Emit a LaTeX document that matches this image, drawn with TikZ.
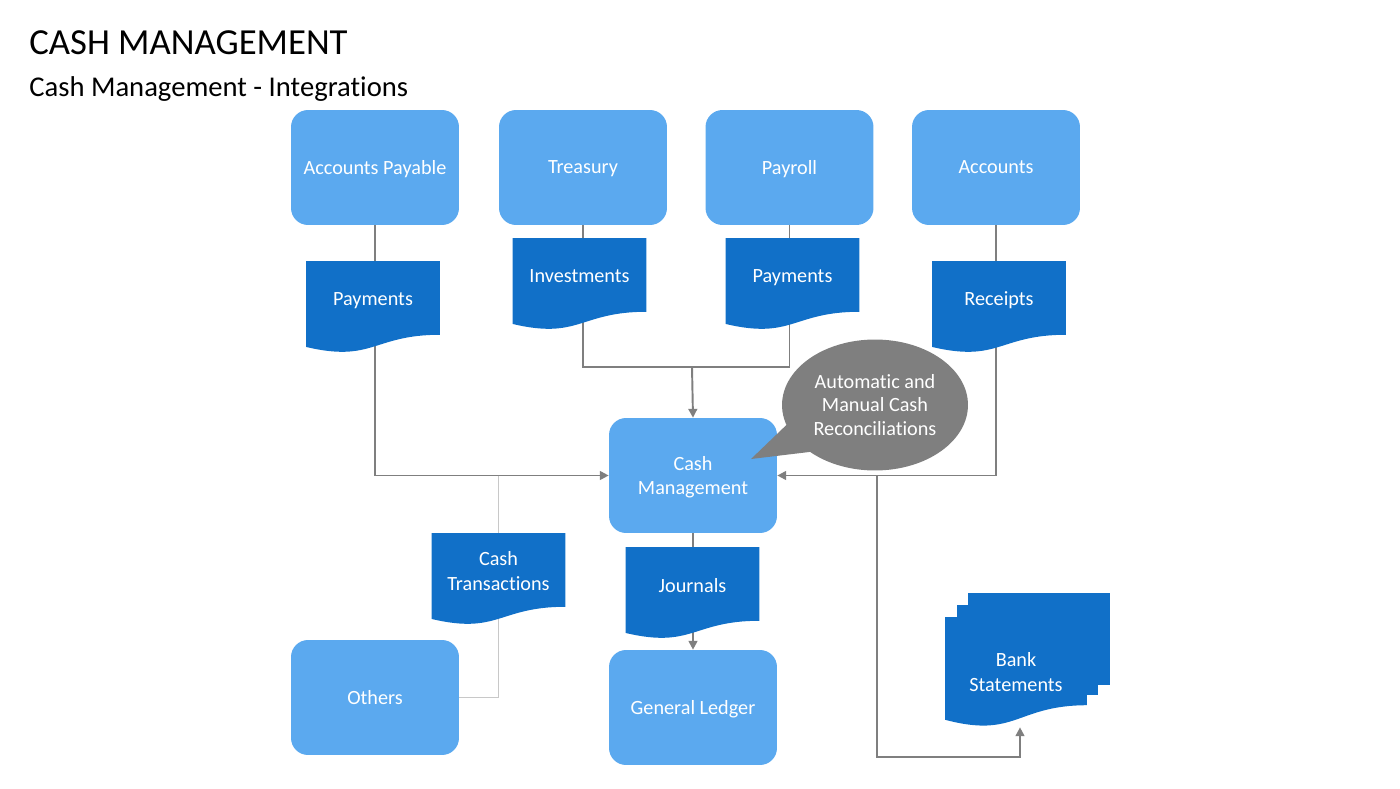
\documentclass[tikz,border=0pt]{standalone}
\usepackage{fontspec}
\setmainfont{Carlito}[Ligatures=NoCommon]
\usetikzlibrary{shapes.callouts, arrows.meta, calc, backgrounds}
\definecolor{boxblue}{RGB}{91,169,239}
\definecolor{docblue}{RGB}{17,112,200}
\definecolor{linegray}{RGB}{127,127,127}
\definecolor{palegray}{RGB}{200,200,200}
\newcommand{\diagfont}{\fontsize{11.5}{14.2}\selectfont}
\tikzstyle{box} = [rectangle, rounded corners=0.34cm, minimum width=3.36cm, minimum height=2.3cm, text centered, align=center, fill=boxblue, text=white, font=\diagfont, text depth=0pt]
\tikzstyle{docshape} = [rectangle, minimum width=2.68cm, minimum height=1.84cm, align=center, text=white, font=\diagfont, path picture={\fill[docblue] (path picture bounding box.north west) -- (path picture bounding box.north east) -- ($(path picture bounding box.south east)!0.198!(path picture bounding box.north east)$) .. controls ($(path picture bounding box.south)!0.198!(path picture bounding box.north)$) and ($(path picture bounding box.south)!-0.107!(path picture bounding box.north)$) .. ($(path picture bounding box.south west)!0.066!(path picture bounding box.north west)$) -- cycle;}]
\tikzstyle{doc} = [docshape, text depth=0.32cm]
\tikzstyle{line} = [draw=linegray, line width=1.1pt]
\tikzstyle{arrow} = [line, -{Triangle[length=5pt,width=5pt]}]
\tikzstyle{thinline} = [draw=palegray, line width=0.6pt]

\begin{document}
\begin{tikzpicture}[x=0.02cm, y=-0.02cm]
\useasboundingbox (0,0) rectangle (1400,788);

%% TITLES

\node (title) [anchor=base west, inner sep=0pt, font=\fontsize{20.9}{24}\selectfont] at (29,54) {CASH MANAGEMENT};
\node (subtitle) [anchor=base west, inner sep=0pt, font=\fontsize{16.3}{19}\selectfont] at (29,96) {Cash Management - Integrations};

%% NODES

\node (ap) [box] at (375,167.5) {Accounts Payable};
\node (treasury) [box] at (583,167.5) {Treasury};
\node (payroll) [box] at (789.5,167.5) {Payroll};
\node (accounts) [box] at (996,167.5) {Accounts};

\node (pay1) [doc] at (373,307) {Payments};
\node (invest) [doc] at (579.5,284) {Investments};
\node (pay2) [doc] at (792.5,284) {Payments};
\node (receipts) [doc] at (999,307) {Receipts};

\node (cm) [box] at (693,475.5) {Cash\\Management};
\node (journals) [doc] at (692.5,593) {Journals};
\node (gl) [box] at (693,707.5) {General Ledger};
\node (cashtx) [doc] at (498.5,579) {Cash\\Transactions};
\node (others) [box] at (375,697.5) {Others};
\node (bank) [docshape, minimum width=2.84cm, minimum height=2.2cm] at (1016,672) {Bank\\Statements};

\node (recon) [ellipse callout, fill=linegray, text=white, font=\fontsize{11.5}{13.6}\selectfont, align=center, inner sep=0pt, minimum width=3.72cm, minimum height=2.62cm, callout absolute pointer={(751,459)}, callout pointer arc=28] at (875,405) {Automatic and\\Manual Cash\\Reconciliations};

\coordinate (join) at (692,367);
\coordinate (turn) at (877,757);

%% ARROWS

\begin{pgfonlayer}{background}
\fill[docblue] ($(bank.north west)+(23,-24)$) rectangle ($(bank.north east)+(23,68)$);
\fill[docblue] ($(bank.north west)+(12,-12)$) rectangle ($(bank.north east)+(11,78)$);
\draw [arrow] (ap.south) |- (cm.west);
\draw [arrow] (accounts.south) |- (cm.east);
\draw [line] (treasury.south) |- (join);
\draw [line] (payroll.south) |- (join);
\draw [arrow] (join) -- (cm.north);
\draw [arrow] (cm.south) -- (gl.north);
\draw [thinline] (cashtx |- cm.west) |- (others.east);
\draw [arrow] (turn |- cm.east) -- (turn) -| ([xshift=0.08cm]bank.south);
\end{pgfonlayer}

\end{tikzpicture}
\end{document}
